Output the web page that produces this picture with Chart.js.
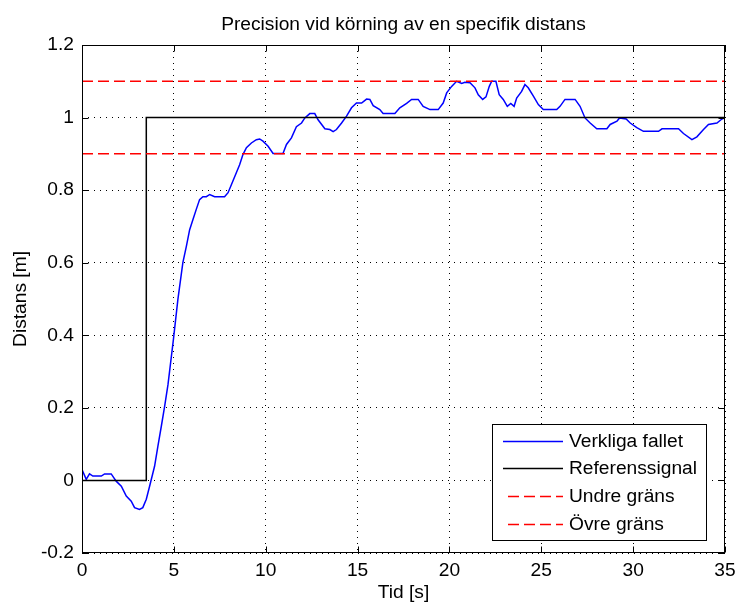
<!DOCTYPE html>
<html>
<head>
<meta charset="utf-8">
<script src="https://cdn.jsdelivr.net/npm/chart.js@4/dist/chart.umd.min.js"></script>
<style>
  html, body { margin: 0; padding: 0; background: #ffffff; }
  #wrap { width: 737px; height: 604px; }
</style>
</head>
<body>
<div id="wrap"><canvas id="chart" width="737" height="604"></canvas></div>
<script>
// Measured run: time [s] and distance [m]
const timeSeconds = [
  0, 0.23, 0.41, 0.59, 1.05, 1.23, 1.59, 1.86, 2.14, 2.41,
  2.68, 2.86, 3.13, 3.31, 3.5, 3.68, 3.95, 4.13, 4.32, 4.5,
  4.68, 4.98, 5.22, 5.49, 5.68, 5.86, 6.04, 6.22, 6.4, 6.58,
  6.77, 6.95, 7.22, 7.76, 7.95, 8.13, 8.4, 8.58, 8.76, 8.95,
  9.22, 9.49, 9.67, 9.85, 10.13, 10.4, 10.94, 11.13, 11.4, 11.67,
  11.95, 12.13, 12.4, 12.67, 12.85, 13.22, 13.49, 13.67, 13.85, 14.13,
  14.4, 14.67, 14.94, 15.22, 15.49, 15.67, 15.85, 16.21, 16.39, 17.03,
  17.3, 17.67, 17.94, 18.3, 18.57, 18.94, 19.39, 19.66, 19.85, 20.12,
  20.39, 20.67, 20.84, 21.12, 21.39, 21.57, 21.81, 21.99, 22.17, 22.3,
  22.53, 22.71, 22.93, 23.15, 23.34, 23.52, 23.66, 23.93, 24.11, 24.29,
  24.57, 24.84, 25.11, 25.84, 26.02, 26.29, 26.84, 27.11, 27.38, 27.66,
  28.02, 28.57, 28.75, 29.12, 29.26, 29.62, 29.84, 30.2, 30.56, 31.38,
  31.57, 32.47, 32.74, 33.2, 33.47, 33.83, 34.1, 34.56, 34.83, 35
];
const measuredDistance = [
  0.03, 0.003, 0.018, 0.012, 0.012, 0.018, 0.018, -0.002, -0.016, -0.043,
  -0.057, -0.075, -0.08, -0.075, -0.052, -0.016, 0.039, 0.094, 0.15, 0.205,
  0.264, 0.39, 0.499, 0.6, 0.645, 0.691, 0.719, 0.747, 0.774, 0.782,
  0.782, 0.788, 0.782, 0.782, 0.793, 0.815, 0.848, 0.87, 0.898, 0.917,
  0.93, 0.939, 0.941, 0.935, 0.921, 0.901, 0.901, 0.926, 0.944, 0.975,
  0.985, 0.999, 1.011, 1.011, 0.994, 0.969, 0.967, 0.961, 0.967, 0.985,
  1.004, 1.027, 1.04, 1.04, 1.051, 1.05, 1.033, 1.022, 1.011, 1.011,
  1.027, 1.039, 1.05, 1.05, 1.031, 1.022, 1.022, 1.04, 1.068, 1.086,
  1.1, 1.094, 1.097, 1.096, 1.082, 1.063, 1.05, 1.057, 1.086, 1.1,
  1.1, 1.063, 1.05, 1.031, 1.039, 1.031, 1.054, 1.072, 1.091, 1.082,
  1.059, 1.036, 1.022, 1.022, 1.031, 1.05, 1.05, 1.031, 0.999, 0.985,
  0.969, 0.969, 0.981, 0.99, 0.999, 0.996, 0.985, 0.972, 0.962, 0.962,
  0.969, 0.969, 0.956, 0.939, 0.947, 0.967, 0.981, 0.985, 0.996, 1.0
];

// Step reference signal
const referenceTime = [0, 3.5, 3.5, 35];
const referenceDistance = [0, 0, 1, 1];

// Tolerance band
const limitTime = [0, 35];
const lowerLimit = [0.9, 0.9];
const upperLimit = [1.1, 1.1];

const seriesNames = ['Verkliga fallet', 'Referenssignal', 'Undre gräns', 'Övre gräns'];
const xTickLabels = ['0', '5', '10', '15', '20', '25', '30', '35'];
const yTickLabels = ['-0.2', '0', '0.2', '0.4', '0.6', '0.8', '1', '1.2'];

const FONT_FAMILY = "'Liberation Sans', Arial, sans-serif";
const FONT_SIZE = 19.2;

const pairs = (xs, ys) => xs.map((x, i) => ({ x: x, y: ys[i] }));
const labelFor = (labels, v) => {
  const hit = labels.find(l => Math.abs(parseFloat(l) - v) < 1e-9);
  return hit === undefined ? '' : hit;
};

// Axes box with inward tick marks on all four sides
const axesBox = {
  id: 'axesBox',
  afterDatasetsDraw(chart) {
    const { ctx, chartArea: a, scales } = chart;
    const L = Math.round(a.left) + 0.5, R = Math.round(a.right) - 0.5;
    const T = Math.round(a.top) + 0.5, B = Math.round(a.bottom) - 0.5;
    ctx.save();
    ctx.strokeStyle = '#000';
    ctx.lineWidth = 1;
    ctx.setLineDash([]);
    ctx.strokeRect(L, T, R - L, B - T);
    const len = 6;
    ctx.beginPath();
    scales.x.ticks.forEach(t => {
      const p = Math.round(scales.x.getPixelForValue(t.value)) + 0.5;
      ctx.moveTo(p, B); ctx.lineTo(p, B - len);
      ctx.moveTo(p, T); ctx.lineTo(p, T + len);
    });
    scales.y.ticks.forEach(t => {
      const p = Math.round(scales.y.getPixelForValue(t.value)) + 0.5;
      ctx.moveTo(L, p); ctx.lineTo(L + len, p);
      ctx.moveTo(R, p); ctx.lineTo(R - len, p);
    });
    ctx.stroke();
    ctx.restore();
  }
};

// Boxed legend in the lower right corner of the axes
const boxLegend = {
  id: 'boxLegend',
  afterDraw(chart) {
    const { ctx, chartArea: a } = chart;
    const w = 214, h = 116;
    const right = Math.round(a.right) - 19, bottom = Math.round(a.bottom) - 13;
    const left = right - w, top = bottom - h;
    ctx.save();
    ctx.fillStyle = '#fff';
    ctx.fillRect(left, top, w, h);
    ctx.strokeStyle = '#000';
    ctx.lineWidth = 1;
    ctx.setLineDash([]);
    ctx.strokeRect(left + 0.5, top + 0.5, w, h);
    ctx.font = FONT_SIZE + 'px ' + FONT_FAMILY;
    ctx.textBaseline = 'middle';
    ctx.textAlign = 'left';
    chart.data.datasets.forEach((ds, row) => {
      const y = Math.round(top + 16.5 + row * 27.8) + 0.5;
      ctx.strokeStyle = ds.borderColor;
      ctx.lineWidth = ds.borderWidth;
      ctx.setLineDash(ds.borderDash || []);
      ctx.beginPath();
      const x0 = ds.borderDash ? left + 16 : left + 11;
      ctx.moveTo(x0, y);
      ctx.lineTo(left + 71, y);
      ctx.stroke();
      ctx.setLineDash([]);
      ctx.fillStyle = '#000';
      ctx.fillText(ds.label, left + 77, y);
    });
    ctx.restore();
  }
};

new Chart(document.getElementById('chart'), {
  type: 'line',
  data: {
    datasets: [
      {
        label: seriesNames[0],
        data: pairs(timeSeconds, measuredDistance),
        borderColor: '#0000ff',
        borderWidth: 1.5,
        pointRadius: 0,
        tension: 0,
        fill: false,
        order: 3
      },
      {
        label: seriesNames[1],
        data: pairs(referenceTime, referenceDistance),
        borderColor: '#000000',
        borderWidth: 1.5,
        pointRadius: 0,
        tension: 0,
        fill: false,
        order: 2
      },
      {
        label: seriesNames[2],
        data: pairs(limitTime, lowerLimit),
        borderColor: '#ff0000',
        borderWidth: 1.5,
        borderDash: [11, 5],
        pointRadius: 0,
        fill: false,
        order: 1
      },
      {
        label: seriesNames[3],
        data: pairs(limitTime, upperLimit),
        borderColor: '#ff0000',
        borderWidth: 1.5,
        borderDash: [11, 5],
        pointRadius: 0,
        fill: false,
        order: 0
      }
    ]
  },
  options: {
    responsive: false,
    devicePixelRatio: 1,
    animation: false,
    events: [],
    layout: { padding: { left: 0, right: 0, top: 0, bottom: 0 } },
    plugins: {
      legend: { display: false },
      tooltip: { enabled: false },
      title: {
        display: true,
        text: 'Precision vid körning av en specifik distans',
        fullSize: false,
        color: '#000',
        font: { family: FONT_FAMILY, size: FONT_SIZE, weight: 'normal', lineHeight: 1.2 },
        padding: { top: 13.1, bottom: 8.86 }
      }
    },
    scales: {
      x: {
        type: 'linear',
        min: 0,
        max: 35,
        afterFit(scale) {
          scale.height = 51;
          scale.paddingLeft = 0;
          scale.paddingRight = 12;
        },
        ticks: {
          stepSize: 5,
          padding: 5.8,
          color: '#000',
          maxRotation: 0,
          font: { family: FONT_FAMILY, size: FONT_SIZE, lineHeight: 1.2 },
          callback: v => labelFor(xTickLabels, v)
        },
        grid: { color: '#000', lineWidth: 1, drawTicks: false },
        border: { display: false, dash: [1, 5] },
        title: {
          display: true,
          text: 'Tid [s]',
          color: '#000',
          font: { family: FONT_FAMILY, size: FONT_SIZE, lineHeight: 1.2 },
          padding: { top: 0, bottom: 0 }
        }
      },
      y: {
        type: 'linear',
        min: -0.2,
        max: 1.2,
        afterFit(scale) {
          scale.width = 82;
          scale.paddingTop = 0;
          scale.paddingBottom = 0;
        },
        ticks: {
          stepSize: 0.2,
          padding: 8,
          color: '#000',
          font: { family: FONT_FAMILY, size: FONT_SIZE, lineHeight: 1.2 },
          callback: v => labelFor(yTickLabels, v)
        },
        grid: { color: '#000', lineWidth: 1, drawTicks: false },
        border: { display: false, dash: [1, 5] },
        title: {
          display: true,
          text: 'Distans [m]',
          color: '#000',
          font: { family: FONT_FAMILY, size: FONT_SIZE, lineHeight: 1.2 },
          padding: { top: 9.5, bottom: 0 }
        }
      }
    }
  },
  plugins: [axesBox, boxLegend]
});
</script>
</body>
</html>
